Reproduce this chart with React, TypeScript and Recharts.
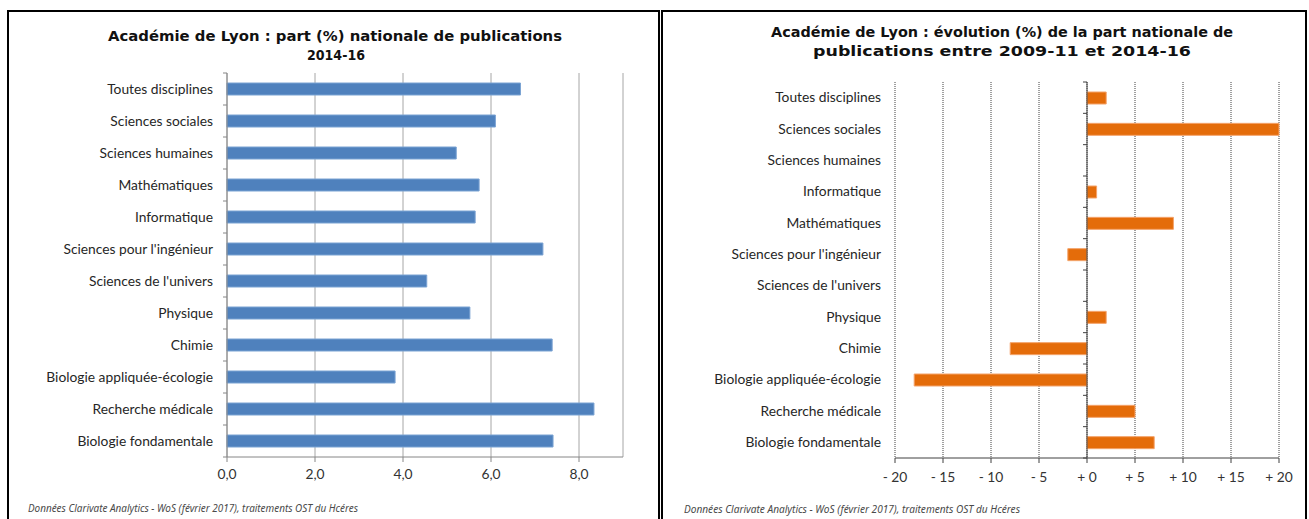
import React from 'react';
import { BarChart, Bar, XAxis, YAxis, CartesianGrid, ReferenceLine } from 'recharts';

// part (%) nationale 2014-16
const shareCategories = [
  'Toutes disciplines',
  'Sciences sociales',
  'Sciences humaines',
  'Mathématiques',
  'Informatique',
  "Sciences pour l'ingénieur",
  "Sciences de l'univers",
  'Physique',
  'Chimie',
  'Biologie appliquée-écologie',
  'Recherche médicale',
  'Biologie fondamentale',
];
const shareValues = [6.67, 6.1, 5.21, 5.73, 5.64, 7.18, 4.54, 5.52, 7.39, 3.82, 8.34, 7.41];
const shareTicks = [0, 2, 4, 6, 8];

// évolution (%) entre 2009-11 et 2014-16
const evoCategories = [
  'Toutes disciplines',
  'Sciences sociales',
  'Sciences humaines',
  'Informatique',
  'Mathématiques',
  "Sciences pour l'ingénieur",
  "Sciences de l'univers",
  'Physique',
  'Chimie',
  'Biologie appliquée-écologie',
  'Recherche médicale',
  'Biologie fondamentale',
];
const evoValues = [2, 20, 0, 1, 9, -2, 0, 2, -8, -18, 5, 7];
const evoTicks = [-20, -15, -10, -5, 0, 5, 10, 15, 20];

const FOOTER = 'Données Clarivate Analytics - WoS (février 2017), traitements OST du Hcéres';
const LABEL_FONT = 'Lato, "Open Sans", sans-serif';
const LABEL_SIZE = 13.8;

const shareData = shareCategories.map((c, i) => ({ name: c, value: shareValues[i] }));
const evoData = evoCategories.map((c, i) => ({ name: c, value: evoValues[i] }));

// category label + small tick marks at band boundaries
const CategoryTick = (props: any) => {
  const { x, y, payload, index, band, axisX, markX, count, color } = props;
  const mx = markX ?? axisX;
  return (
    <g>
      <text x={x} y={y} dy={4.5} textAnchor="end" fontSize={LABEL_SIZE} fontFamily={LABEL_FONT} fill="#262626">
        {payload.value}
      </text>
      <line x1={mx - 4} x2={mx} y1={y - band / 2} y2={y - band / 2} stroke={color} />
      {index === count - 1 && <line x1={mx - 4} x2={mx} y1={y + band / 2} y2={y + band / 2} stroke={color} />}
    </g>
  );
};

const ShareChart = () => {
  const plotH = 384;
  return (
    <BarChart
      width={660}
      height={519}
      data={shareData}
      layout="vertical"
      margin={{ top: 73, right: 37, bottom: 32, left: 0 }}
      barCategoryGap={0}
    >
      <CartesianGrid horizontal={false} stroke="#A6A6A6" />
      <XAxis
        type="number"
        domain={[0, 9]}
        ticks={shareTicks}
        height={30}
        stroke="#868686"
        tickSize={5}
        tickMargin={7}
        tick={{ fontSize: LABEL_SIZE, fontFamily: LABEL_FONT, fill: '#333' }}
        tickFormatter={(v: number) => v.toFixed(1).replace('.', ',')}
      />
      <YAxis
        type="category"
        dataKey="name"
        width={227}
        stroke="#868686"
        tickLine={false}
        tickSize={6}
        tickMargin={8}
        interval={0}
        tick={<CategoryTick band={plotH / shareCategories.length} axisX={227} count={shareCategories.length} color="#868686" />}
      />
      <Bar dataKey="value" fill="#4F81BD" stroke="#7BA3D3" strokeWidth={1} barSize={12} isAnimationActive={false} />
    </BarChart>
  );
};

const EvoChart = () => {
  const plotH = 376;
  const plotLeft = 234;
  const plotW = 384;
  const zeroX = plotLeft + ((0 - evoTicks[0]) / (evoTicks[evoTicks.length - 1] - evoTicks[0])) * plotW;
  return (
    <BarChart
      width={648}
      height={519}
      data={evoData}
      layout="vertical"
      margin={{ top: 82, right: 30, bottom: 31, left: 0 }}
      barCategoryGap={0}
    >
      <CartesianGrid horizontal={false} stroke="#404040" strokeDasharray="1 1" />
      <XAxis
        type="number"
        domain={[-20, 20]}
        ticks={evoTicks}
        height={30}
        stroke="#404040"
        tickSize={5}
        tickMargin={9}
        tick={{ fontSize: LABEL_SIZE, fontFamily: LABEL_FONT, fill: '#333' }}
        tickFormatter={(v: number) => (v < 0 ? `- ${Math.abs(v)}` : `+ ${v}`)}
      />
      <YAxis
        type="category"
        dataKey="name"
        width={plotLeft}
        axisLine={false}
        tickLine={false}
        tickSize={6}
        tickMargin={8}
        interval={0}
        tick={
          <CategoryTick
            band={plotH / evoCategories.length}
            axisX={plotLeft}
            markX={zeroX}
            count={evoCategories.length}
            color="#404040"
          />
        }
      />
      <Bar dataKey="value" fill="#E46C0A" stroke="#F4A36A" strokeWidth={1} barSize={12} isAnimationActive={false} />
      <ReferenceLine x={0} stroke="#404040" />
    </BarChart>
  );
};

export default function App() {
  const titleFont = '"DejaVu Sans", "Noto Sans", sans-serif';
  return (
    <div style={{ position: 'absolute', left: 0, top: 0, width: 1309, height: 519, overflow: 'hidden', background: '#fff' }}>
      <div style={{ position: 'absolute', left: 7, top: 10, width: 649, height: 520, border: '2px solid #000' }} />
      <div style={{ position: 'absolute', left: 661, top: 10, width: 642, height: 520, border: '2px solid #000' }} />
      <div style={{ position: 'absolute', left: 0, top: 0 }}>
        <ShareChart />
      </div>
      <div style={{ position: 'absolute', left: 661, top: 0 }}>
        <EvoChart />
      </div>
      <svg width={1309} height={519} style={{ position: 'absolute', left: 0, top: 0, pointerEvents: 'none' }}>
        <g fontFamily={titleFont} fontWeight={700} fontSize={14} fill="#111" textAnchor="middle">
          <text x={335} y={41} textLength={454} lengthAdjust="spacingAndGlyphs">
            Académie de Lyon : part (%) nationale de publications
          </text>
          <text x={336} y={60} textLength={58} lengthAdjust="spacingAndGlyphs">
            2014-16
          </text>
          <text x={1002} y={37} textLength={462} lengthAdjust="spacingAndGlyphs">
            Académie de Lyon : évolution (%) de la part nationale de
          </text>
          <text x={1002} y={56} textLength={378} lengthAdjust="spacingAndGlyphs">
            publications entre 2009-11 et 2014-16
          </text>
        </g>
        <g fontFamily={'"Noto Sans", sans-serif'} fontStyle="italic" fontSize={11.5} fill="#4a4a4a">
          <text x={28} y={512} textLength={330} lengthAdjust="spacingAndGlyphs">
            {FOOTER}
          </text>
          <text x={684} y={513} textLength={336} lengthAdjust="spacingAndGlyphs">
            {FOOTER}
          </text>
        </g>
      </svg>
    </div>
  );
}
